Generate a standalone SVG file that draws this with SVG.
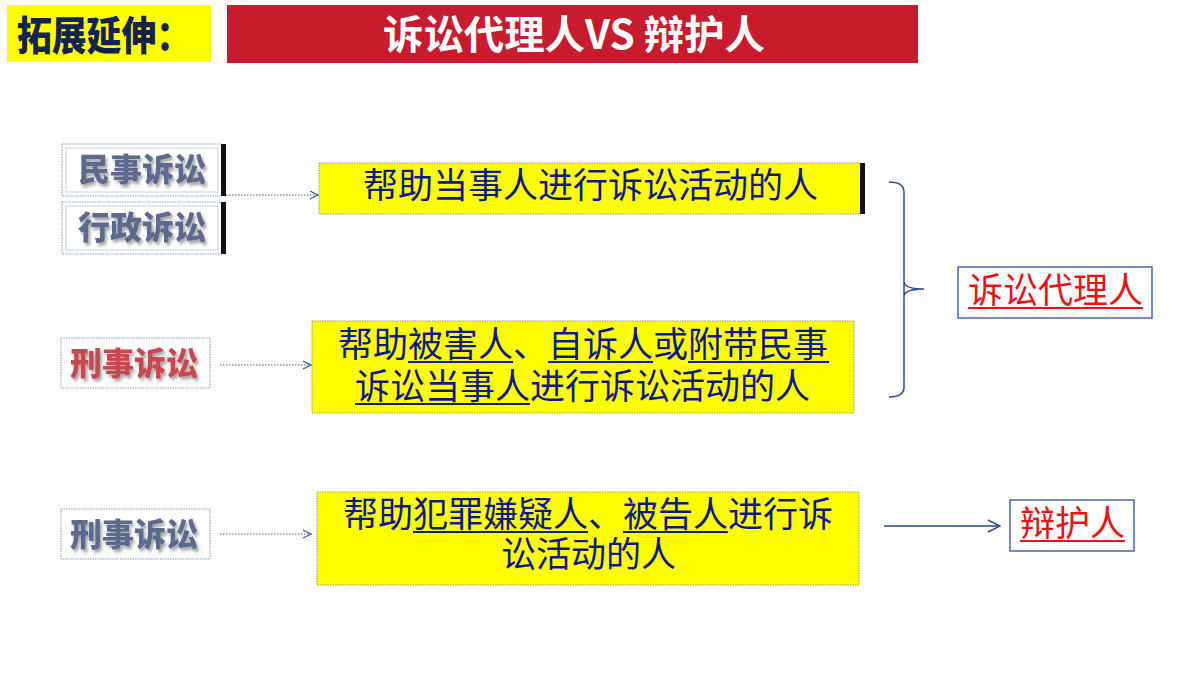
<svg xmlns="http://www.w3.org/2000/svg" width="1200" height="675" viewBox="0 0 1200 675">
<defs>
<style>
.cjk{font-family:"Noto Sans CJK SC","Liberation Sans",sans-serif}
.lbl{font-size:32px;font-weight:900}
.body{font-size:35px;fill:#0d1a8c}
.red{font-size:35px;fill:#ee1111}
.ul{stroke:#0d1a8c;stroke-width:2}
.ulr{stroke:#ee1111;stroke-width:2}
.ybox{fill:#ffff00;stroke:#9a9a70;stroke-width:1;stroke-dasharray:1.5 1}
.lbox{fill:#ffffff;stroke:#8a9ac4;stroke-width:1;stroke-dasharray:1.5 1}
.lin{fill:none;stroke:#c4cde0;stroke-width:1}
.rbox{fill:#ffffff;stroke:#4a66a8;stroke-width:1.5}
.dot{fill:none;stroke:#3a5a9a;stroke-width:1.2;stroke-dasharray:1.5 1.5}
.sol{fill:none;stroke:#2a4a8a;stroke-width:1.5}
</style>
<marker id="oa" viewBox="0 0 10 10" refX="9" refY="5" markerWidth="10" markerHeight="10" markerUnits="userSpaceOnUse" orient="auto">
<path d="M1,1 L9,5 L1,9" fill="none" stroke="#3a5a9a" stroke-width="1.2"/>
</marker>
<marker id="sa" viewBox="0 0 14 14" refX="13" refY="7" markerWidth="14" markerHeight="14" markerUnits="userSpaceOnUse" orient="auto">
<path d="M1,1 L13,7 L1,13" fill="none" stroke="#2a4a8a" stroke-width="1.5"/>
</marker>
<filter id="sh" x="-10%" y="-20%" width="130%" height="150%">
<feDropShadow dx="2" dy="3" stdDeviation="1.5" flood-color="#000000" flood-opacity="0.35"/>
</filter>
</defs>

<g id="header">
<rect x="7" y="5" width="204" height="57" fill="#ffff00"/>
<text class="cjk" x="17" y="50" font-size="40" font-weight="900" fill="#14234f" textLength="174" lengthAdjust="spacingAndGlyphs">拓展延伸：</text>
</g>

<g id="title">
<rect x="227" y="5" width="691" height="58" fill="#c81b2e"/>
<text class="cjk" x="383" y="49" font-size="40" font-weight="700" fill="#ffffff" textLength="382" lengthAdjust="spacingAndGlyphs">诉讼代理人VS 辩护人</text>
</g>

<g id="civil">
<rect class="lbox" x="62" y="144" width="160" height="52"/>
<rect class="lin" x="66" y="148" width="152" height="44"/>
<rect x="221" y="144" width="5" height="52" fill="#111111"/>
<text class="cjk lbl" x="78" y="181" fill="#5c6a8e" filter="url(#sh)">民事诉讼</text>
</g>

<g id="admin">
<rect class="lbox" x="62" y="202" width="160" height="52"/>
<rect class="lin" x="66" y="206" width="152" height="44"/>
<rect x="221" y="202" width="5" height="52" fill="#111111"/>
<text class="cjk lbl" x="78" y="239" fill="#5c6a8e" filter="url(#sh)">行政诉讼</text>
</g>

<g id="criminal1">
<rect class="lbox" x="61" y="338" width="149" height="50"/>
<text class="cjk lbl" x="70" y="375" fill="#c9464f" filter="url(#sh)">刑事诉讼</text>
</g>

<g id="criminal2">
<rect class="lbox" x="61" y="509" width="149" height="50"/>
<text class="cjk lbl" x="70" y="546" fill="#5c6a8e" filter="url(#sh)">刑事诉讼</text>
</g>

<g id="desc1">
<rect class="ybox" x="319" y="163" width="542" height="51"/>
<rect x="860" y="163" width="5" height="51" fill="#111111"/>
<text class="cjk body" x="363" y="198">帮助当事人进行诉讼活动的人</text>
</g>

<g id="desc2">
<rect class="ybox" x="312" y="321" width="542" height="92"/>
<text class="cjk body"><tspan x="338" y="357">帮助被害人、自诉人或附带民事</tspan><tspan x="355" y="399">诉讼当事人进行诉讼活动的人</tspan></text>
<line class="ul" x1="408" y1="362" x2="513" y2="362"/>
<line class="ul" x1="548" y1="362" x2="653" y2="362"/>
<line class="ul" x1="688" y1="362" x2="829" y2="362"/>
<line class="ul" x1="355" y1="404" x2="530" y2="404"/>
</g>

<g id="desc3">
<rect class="ybox" x="317" y="492" width="542" height="93"/>
<text class="cjk body"><tspan x="343" y="527">帮助犯罪嫌疑人、被告人进行诉</tspan><tspan x="501" y="567">讼活动的人</tspan></text>
<line class="ul" x1="413" y1="532" x2="588" y2="532"/>
<line class="ul" x1="623" y1="532" x2="728" y2="532"/>
</g>

<g id="agent">
<rect class="rbox" x="958" y="267" width="194" height="51"/>
<text class="cjk red" x="968" y="303">诉讼代理人</text>
<line class="ulr" x1="968" y1="308" x2="1143" y2="308"/>
</g>

<g id="defender">
<rect class="rbox" x="1010" y="500" width="124" height="51"/>
<text class="cjk red" x="1020" y="536">辩护人</text>
<line class="ulr" x1="1020" y1="541" x2="1125" y2="541"/>
</g>

<g id="connectors">
<line class="dot" x1="226" y1="195" x2="318" y2="195" marker-end="url(#oa)"/>
<line class="dot" x1="220" y1="365" x2="311" y2="365" marker-end="url(#oa)"/>
<line class="dot" x1="220" y1="534" x2="311" y2="534" marker-end="url(#oa)"/>
<path class="sol" d="M889,182 Q904,182 904,192 L904,387 Q904,397 889,397 M904,282 Q905,289 924,289 M904,296 Q905,289 924,289"/>
<line class="sol" x1="884" y1="526" x2="1000" y2="526" marker-end="url(#sa)"/>
</g>
</svg>
